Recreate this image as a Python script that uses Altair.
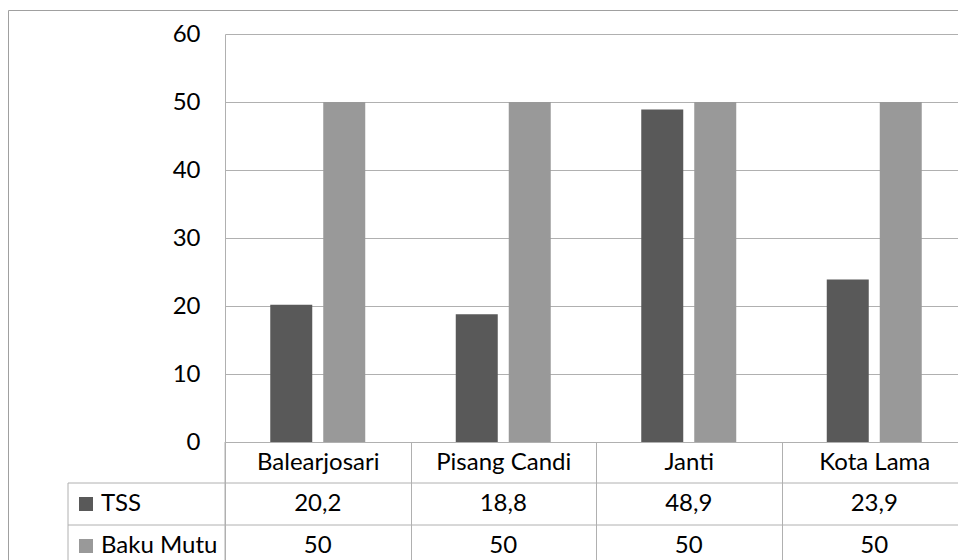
import altair as alt
import pandas as pd

# Monitoring sites and measured values (mg/L)
categories = ["Balearjosari", "Pisang Candi", "Janti", "Kota Lama"]
series = ["TSS", "Baku Mutu"]
tss = [20.2, 18.8, 48.9, 23.9]
baku_mutu = [50, 50, 50, 50]
y_ticks = [0, 10, 20, 30, 40, 50, 60]

colors = ["#595959", "#999999"]
line_color = "#b0b0b0"
font = "Lato"
fs = 24

rows = []
for name, vals in zip(series, [tss, baku_mutu]):
    for cat, v in zip(categories, vals):
        rows.append({"category": cat, "series": name, "value": v})
df = pd.DataFrame(rows)

base = alt.Chart(df).transform_calculate(
    label="replace(toString(datum.value), '.', ',')"
)

x_enc = alt.X(
    "category:N",
    sort=categories,
    title=None,
    scale=alt.Scale(range=[0, 742], paddingInner=0, paddingOuter=0),
    axis=alt.Axis(
        domainColor=line_color,
        tickColor=line_color,
        tickBand="extent",
        tickSize=125,
        labelFont=font,
        labelFontSize=fs,
        labelColor="black",
        labelBaseline="middle",
        labelPadding=-104.5,
        labelAngle=0,
    ),
)

bars = base.mark_bar().encode(
    x=x_enc,
    xOffset=alt.XOffset(
        "series:N",
        sort=series,
        scale=alt.Scale(paddingInner=0.2075, paddingOuter=0.854),
    ),
    y=alt.Y(
        "value:Q",
        title=None,
        scale=alt.Scale(domain=[0, 60], nice=False),
        axis=alt.Axis(
            values=y_ticks,
            grid=True,
            gridColor=line_color,
            domainColor=line_color,
            ticks=False,
            labelFont=font,
            labelFontSize=fs,
            labelColor="black",
            labelPadding=25,
        ),
    ),
    color=alt.Color(
        "series:N",
        sort=series,
        scale=alt.Scale(domain=series, range=colors),
        legend=alt.Legend(
            title=None,
            orient="none",
            legendX=-151,
            legendY=458,
            symbolType="square",
            symbolSize=196,
            symbolStrokeWidth=0,
            labelFont=font,
            labelFontSize=fs,
            labelColor="black",
            labelOffset=3,
            rowPadding=18,
            padding=0,
        ),
    ),
)

# Data-table value rows
tss_text = base.transform_filter(alt.datum.series == "TSS").mark_text(
    font=font, fontSize=fs, color="black", baseline="middle"
).encode(x=alt.X("category:N", sort=categories), y=alt.value(470), text="label:N")

baku_text = base.transform_filter(alt.datum.series == "Baku Mutu").mark_text(
    font=font, fontSize=fs, color="black", baseline="middle"
).encode(x=alt.X("category:N", sort=categories), y=alt.value(512), text="label:N")

# Table grid and outer frame
frame = alt.Chart(pd.DataFrame({"k": [0]}))
h1 = frame.mark_rule(color=line_color).encode(x=alt.value(-157), x2=alt.value(742), y=alt.value(449))
h2 = frame.mark_rule(color=line_color).encode(x=alt.value(-157), x2=alt.value(742), y=alt.value(491))
v_axis_ext = frame.mark_rule(color=line_color).encode(x=alt.value(0), y=alt.value(408), y2=alt.value(533))
v_left = frame.mark_rule(color=line_color).encode(x=alt.value(-157), y=alt.value(449), y2=alt.value(533))
outer_left = frame.mark_rule(color="#a0a0a0").encode(x=alt.value(-216.5), y=alt.value(-23.5), y2=alt.value(540))
outer_top = frame.mark_rule(color="#a0a0a0").encode(x=alt.value(-216.5), x2=alt.value(760), y=alt.value(-23.5))

chart = alt.layer(
    bars, tss_text, baku_text, h1, h2, v_axis_ext, v_left, outer_left, outer_top
).properties(
    width=733,
    height=408,
    autosize=alt.AutoSizeParams(type="none"),
    padding={"left": 225, "top": 34, "right": 0, "bottom": 118},
    background="white",
).configure_view(strokeWidth=0)

chart.save("out.html", embed_options={"renderer": "svg", "actions": False})
